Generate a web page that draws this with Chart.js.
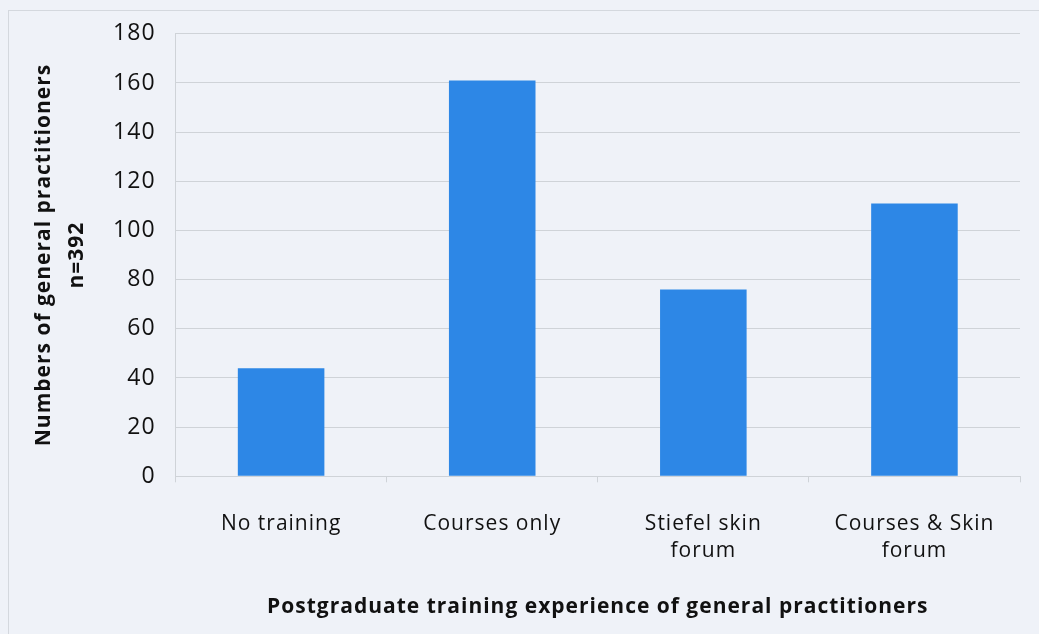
<!DOCTYPE html>
<html>
<head>
<meta charset="utf-8">
<script src="https://cdn.jsdelivr.net/npm/chart.js@4.4.0/dist/chart.umd.min.js"></script>
<style>
  body { margin: 0; background: #fff; }
  #wrap { width: 1039px; height: 634px; position: relative; }
</style>
</head>
<body>
<div id="wrap"><canvas id="canvas" width="1039" height="634"></canvas></div>
<script>
// categories and counts
var categories = ['No training', 'Courses only', ['Stiefel skin', 'forum'], ['Courses & Skin', 'forum']];
var counts = [44, 161, 76, 111];
var yTicks = [0, 20, 40, 60, 80, 100, 120, 140, 160, 180];

// scanned Calibri text is spaced out a little
var spacing = function(chart) { chart.ctx.letterSpacing = '1px'; };

var bgPlugin = {
  id: 'bg',
  beforeLayout: spacing,
  beforeDraw: function(chart) {
    var c = chart.ctx;
    spacing(chart);
    c.save();
    c.fillStyle = '#eff2f8';
    c.fillRect(0, 0, chart.width, chart.height);
    c.strokeStyle = '#d4d8de';
    c.lineWidth = 1;
    c.strokeRect(8.5, 10.5, chart.width - 8, chart.height - 10);
    c.restore();
  }
};

var ctx = document.getElementById('canvas').getContext('2d');
var chart = new Chart(ctx, {
  type: 'bar',
  data: {
    labels: categories,
    datasets: [{
      data: counts,
      backgroundColor: '#2d87e6',
      borderWidth: 0,
      barPercentage: 0.41,
      categoryPercentage: 1
    }]
  },
  options: {
    responsive: false,
    animation: false,
    layout: { padding: { top: 19, right: 19, left: 24, bottom: 10 } },
    plugins: {
      legend: { display: false },
      tooltip: { enabled: false }
    },
    scales: {
      y: {
        min: 0,
        max: 180,
        afterBuildTicks: function(axis) {
          axis.ticks = yTicks.map(function(v) { return { value: v }; });
        },
        grid: { color: '#cfd3d8', drawTicks: false },
        border: { color: '#cfd3d8' },
        ticks: {
          padding: 20,
          color: '#111',
          font: { family: 'Open Sans', size: 23 }
        },
        title: {
          display: true,
          text: ['Numbers of general practitioners', 'n=392'],
          color: '#111',
          font: { family: 'Open Sans', size: 21, weight: 'bold', lineHeight: 1.55 },
          padding: { bottom: 0 }
        }
      },
      x: {
        grid: { display: true, drawOnChartArea: false, offset: true, color: '#cfd3d8', tickLength: 6 },
        border: { color: '#cfd3d8' },
        ticks: {
          padding: 29,
          color: '#111',
          font: { family: 'Open Sans', size: 21, lineHeight: 1.25 }
        },
        title: {
          display: true,
          text: 'Postgraduate training experience of general practitioners',
          color: '#111',
          font: { family: 'Open Sans', size: 21, weight: 'bold' },
          padding: { top: 2 }
        }
      }
    }
  },
  plugins: [bgPlugin]
});
</script>
</body>
</html>
